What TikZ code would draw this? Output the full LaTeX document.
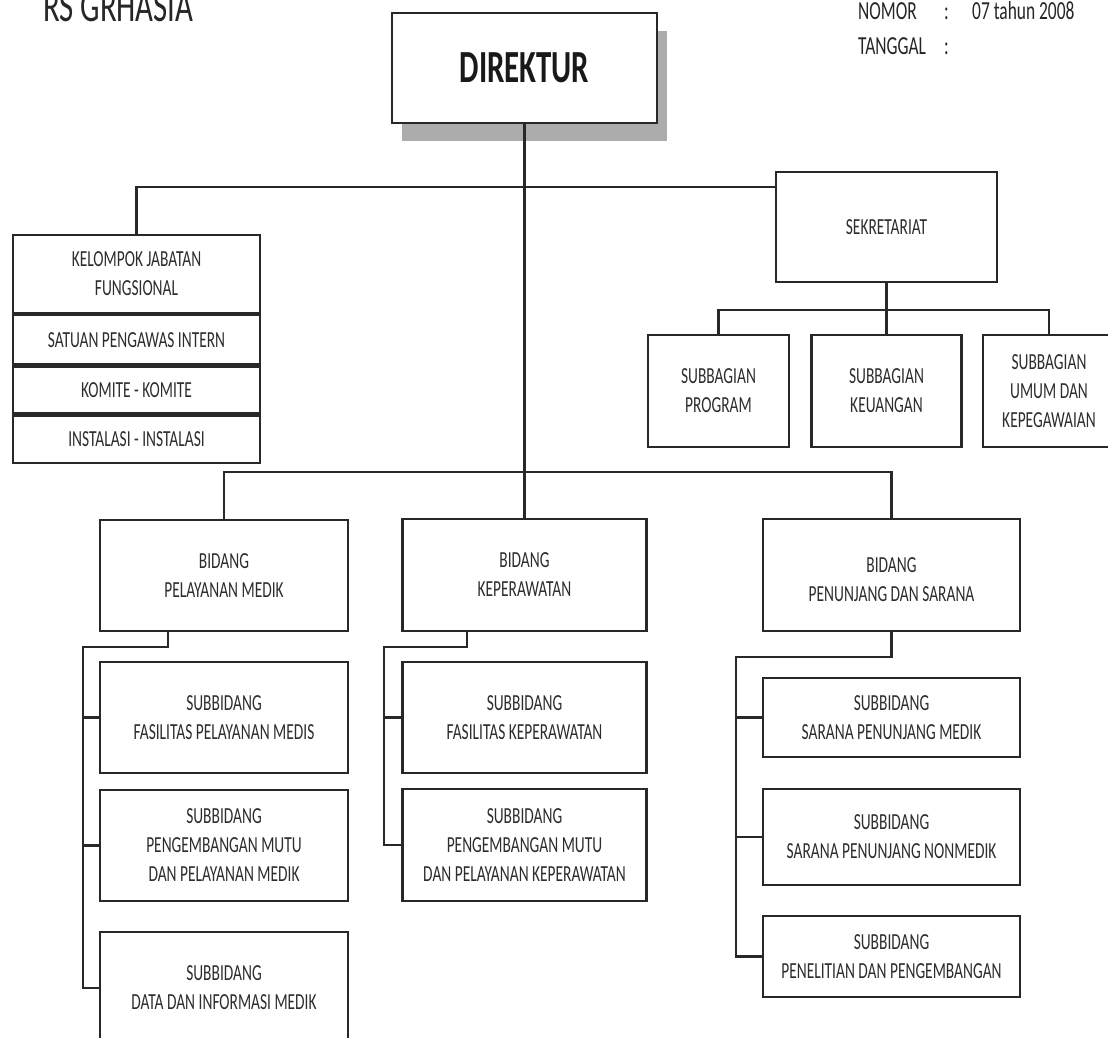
\documentclass[tikz,border=0pt]{standalone}
\usepackage{fontspec}
\newfontfamily\orgfont[FakeStretch=0.67]{Carlito}
\usepackage{tikz}
\usetikzlibrary{
    positioning,
    shadows
}
\definecolor{LineGray}{RGB}{40,40,40}
\definecolor{ShadowGray}{RGB}{172,172,172}
\definecolor{TextGray}{RGB}{45,45,45}
\tikzset{
  orgbox/.style = {draw=LineGray, line width=2.3pt, fill=white, align=center,
                   inner sep=2pt, text=TextGray,
                   font=\orgfont\fontsize{23}{29}\selectfont},
  stackbox/.style = {orgbox, minimum width=247pt},
  conn/.style   = {draw=LineGray, line width=2.1pt},
  hdr/.style    = {anchor=base west, inner sep=0pt, text=black!85,
                   font=\orgfont\fontsize{26}{30}\selectfont}
}

\begin{document}
\begin{tikzpicture}[x=1pt, y=-1pt]
\fill[white] (0,0) rectangle (1108,1038);
\useasboundingbox (0,0) rectangle (1108,1038);
% header
\node[hdr, font=\orgfont\fontsize{46}{50}\selectfont] (rs) at (43,22) {RS GRHASIA};
\node[hdr] (nomor) at (858,20) {NOMOR};
\node[hdr] (col1) at (944,20) {:};
\node[hdr] (nomorval) at (972,20) {07 tahun 2008};
\node[hdr] (tanggal) at (858,55) {TANGGAL};
\node[hdr] (col2) at (944,55) {:};
% direktur
\node[orgbox, minimum width=265pt, minimum height=110pt, text=black!90,
      font=\orgfont\bfseries\fontsize{46}{50}\selectfont,
      drop shadow={shadow xshift=10pt, shadow yshift=-18pt, fill=ShadowGray, opacity=1}]
      (dir) at (524.5,68) {DIREKTUR};
% staf di kiri
\node[stackbox, minimum height=78pt] (kjf) at (136.5,274) {KELOMPOK JABATAN\\FUNGSIONAL};
\node[stackbox, minimum height=49pt, below=0pt of kjf] (spi) {SATUAN PENGAWAS INTERN};
\node[stackbox, minimum height=47pt, below=0pt of spi] (kom) {KOMITE - KOMITE};
\node[stackbox, minimum height=47pt, below=0pt of kom] (ins) {INSTALASI - INSTALASI};
% sekretariat
\node[orgbox, minimum width=221pt, minimum height=110pt] (sek) at (886.5,227) {SEKRETARIAT};
\node[orgbox, minimum width=141pt, minimum height=112pt] (sbp) at (718.5,391) {SUBBAGIAN\\PROGRAM};
\node[orgbox, minimum width=150pt, minimum height=112pt] (sbk) at (886.5,391) {SUBBAGIAN\\KEUANGAN};
\node[orgbox, minimum width=132pt, minimum height=112pt] (sbu) at (1049,391) {SUBBAGIAN\\UMUM DAN\\KEPEGAWAIAN};
% bidang
\node[orgbox, minimum width=248pt, minimum height=111pt] (bpm) at (224,575.5) {BIDANG\\PELAYANAN MEDIK};
\node[orgbox, minimum width=244pt, minimum height=112pt] (bkp) at (524.5,575) {BIDANG\\KEPERAWATAN};
\node[orgbox, minimum width=257pt, minimum height=112pt] (bps) at (891.5,575) {\\[-4pt]BIDANG\\PENUNJANG DAN SARANA};
% subbidang
\node[orgbox, minimum width=248pt, minimum height=111pt] (sfm) at (224,717.5) {SUBBIDANG\\FASILITAS PELAYANAN MEDIS};
\node[orgbox, minimum width=248pt, minimum height=111pt] (spm) at (224,845.5) {SUBBIDANG\\PENGEMBANGAN MUTU\\DAN PELAYANAN MEDIK};
\node[orgbox, minimum width=248pt, minimum height=112pt] (sdm) at (224,988) {SUBBIDANG\\DATA DAN INFORMASI MEDIK};
\node[orgbox, minimum width=244pt, minimum height=111pt] (sfk) at (524.5,717.5) {SUBBIDANG\\FASILITAS KEPERAWATAN};
\node[orgbox, minimum width=244pt, minimum height=112pt] (spk) at (524.5,845) {SUBBIDANG\\PENGEMBANGAN MUTU\\DAN PELAYANAN KEPERAWATAN};
\node[orgbox, minimum width=257pt, minimum height=79pt] (ssm) at (891.5,717.5) {SUBBIDANG\\SARANA PENUNJANG MEDIK};
\node[orgbox, minimum width=257pt, minimum height=96pt] (ssn) at (891.5,837) {SUBBIDANG\\SARANA PENUNJANG NONMEDIK};
\node[orgbox, minimum width=257pt, minimum height=81pt] (spp) at (891.5,956.5) {SUBBIDANG\\PENELITIAN DAN PENGEMBANGAN};
% garis
\coordinate (tj) at (524.5,187);
\draw[conn] (kjf.north) |- (tj) -- (tj -| sek.west);
\draw[conn] (dir.south) -- (bkp.north);
\coordinate (sj) at (886.5,310);
\draw[conn] (sek.south) -- (sj);
\draw[conn] (sbp.north) |- (sj) -| (sbu.north);
\draw[conn] (sbk.north) -- (sj);
\coordinate (bj) at (524.5,472);
\draw[conn] (bpm.north) |- (bj) -| (bps.north);
% pelayanan medik
\coordinate (pm1) at (168,647);
\coordinate (pm2) at (83,647);
\draw[conn] (bpm.south -| pm1) -- (pm1) -- (pm2) |- (sdm.west);
\draw[conn] (pm2 |- sfm.west) -- (sfm.west);
\draw[conn] (pm2 |- spm.west) -- (spm.west);
% keperawatan
\coordinate (kp1) at (467,647);
\coordinate (kp2) at (384,647);
\draw[conn] (bkp.south -| kp1) -- (kp1) -- (kp2) |- (spk.west);
\draw[conn] (kp2 |- sfk.west) -- (sfk.west);
% penunjang
\coordinate (ps1) at (891.5,657);
\coordinate (ps2) at (736,657);
\draw[conn] (bps.south) -- (ps1) -- (ps2) |- (spp.west);
\draw[conn] (ps2 |- ssm.west) -- (ssm.west);
\draw[conn] (ps2 |- ssn.west) -- (ssn.west);
\end{tikzpicture}
\end{document}
